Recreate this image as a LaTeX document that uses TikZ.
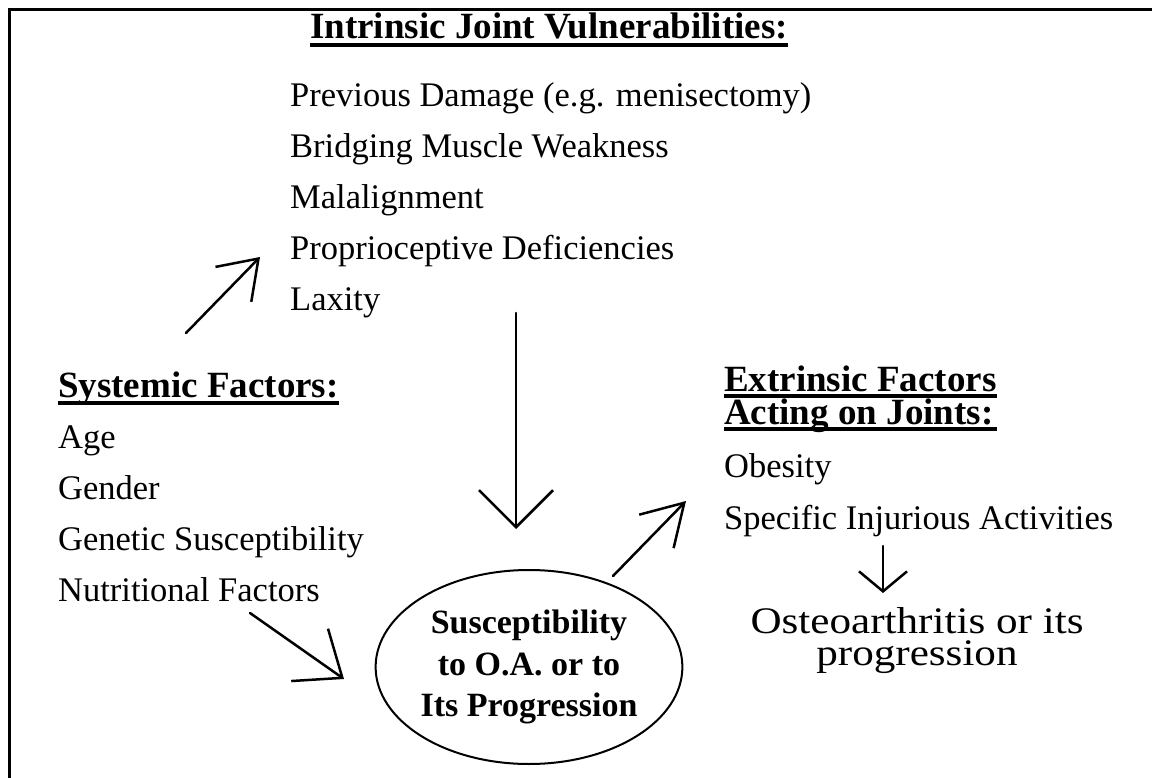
\documentclass[tikz,border=0pt]{standalone}
\usepackage{fontspec}
\usepackage{graphicx}
\setmainfont{Liberation Serif}
\usetikzlibrary{arrows.meta,shapes.geometric}
\tikzset{
  txt/.style={inner sep=0pt, anchor=base west, font=\fontsize{34.5}{41}\selectfont},
  head/.style={inner sep=0pt, anchor=base west, font=\fontsize{37}{44}\selectfont\bfseries},
  ul/.style={line width=3.5pt},
  arr/.style={line width=2.5pt, line cap=round},
  frame/.style={line width=2.5pt}
}
\begin{document}
\begin{tikzpicture}[x=1pt,y=-1pt]
\useasboundingbox (0,0) rectangle (1152,778);
% frame
\coordinate (fTR) at (1152,9.5);
\coordinate (fTL) at (9.5,9.5);
\coordinate (fBL) at (9.5,778);
\draw[frame] (fTR) -- (fTL) -- (fBL);

% Intrinsic
\node[head, anchor=base] (title) at (549,39) {Intrinsic Joint Vulnerabilities:};
\draw[ul] ([yshift=-6pt]title.base west) -- ([yshift=-6pt]title.base east);
\node[txt] (i1) at (290,107) {Previous Damage (e.g. menisectomy)};
\node[txt] (i2) at (290,158) {Bridging Muscle Weakness};
\node[txt] (i3) at (290,209) {Malalignment};
\node[txt] (i4) at (290,260) {Proprioceptive Deficiencies};
\node[txt] (i5) at (290,311) {Laxity};

% Systemic
\node[head] (sys) at (58,397) {Systemic Factors:};
\draw[ul] ([yshift=-6pt]sys.base west) -- ([yshift=-6pt]sys.base east);
\node[txt] (s1) at (58,448) {Age};
\node[txt] (s2) at (58,499) {Gender};
\node[txt] (s3) at (58,550) {Genetic Susceptibility};
\node[txt] (s4) at (58,601) {Nutritional Factors};

% Extrinsic
\node[head] (ext1) at (724,391) {Extrinsic Factors};
\draw[ul] ([yshift=-5pt]ext1.base west) -- ([yshift=-5pt]ext1.base east);
\node[head] (ext2) at (724,424) {Acting on Joints:};
\draw[ul] ([yshift=-5pt]ext2.base west) -- ([yshift=-5pt]ext1.base east |- ext2.base);
\node[txt] (e1) at (724,477) {Obesity};
\node[txt] (e2) at (724,529) {Specific Injurious Activities};

% Ellipse
\node[draw, line width=2pt, ellipse, minimum width=276pt, minimum height=194pt, inner sep=0pt,
      align=center, font=\fontsize{34}{41.5}\selectfont\bfseries] (susc) at (529,667)
  {Susceptibility\\to O.A. or to\\Its Progression};

% Outcome
\node[inner sep=0pt, align=center, font=\fontsize{37.5}{32}\selectfont] (oa) at (917,641)
  {\scalebox{1.15}[1]{Osteoarthritis or its}\\\scalebox{1.15}[1]{progression}};

% arrow coordinates
\coordinate (a1s) at (186,333); \coordinate (a1e) at (260,257);
\coordinate (a2s) at (516,313); \coordinate (a2e) at (516,529);
\coordinate (a3s) at (250,613); \coordinate (a3e) at (344,679);
\coordinate (a4s) at (613,576); \coordinate (a4e) at (686,501);
\coordinate (a5s) at (883,546); \coordinate (a5e) at (883,593);

\draw[arr, -{Straight Barb[length=36pt,width=50pt]}] (a1s) -- (a1e);
\draw[arr, -{Straight Barb[length=37pt,width=74pt]}] (a2s) -- (a2e);
\draw[arr, -{Straight Barb[length=40pt,width=64pt]}] (a3s) -- (a3e);
\draw[arr, -{Straight Barb[length=40pt,width=48pt]}] (a4s) -- (a4e);
\draw[arr, -{Straight Barb[length=20pt,width=48pt]}] (a5s) -- (a5e);
\end{tikzpicture}
\end{document}
